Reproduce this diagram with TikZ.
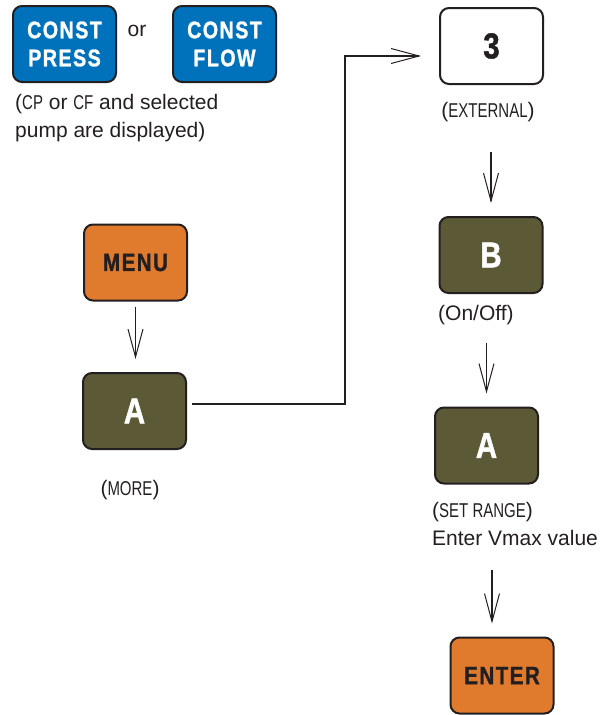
\documentclass[tikz,border=0pt]{standalone}
\usepackage{fontspec}
\setmainfont{Liberation Sans}
\newfontfamily\condfont[FakeStretch=0.75]{Liberation Sans}
\newfontfamily\keyfont[FakeStretch=0.82,LetterSpace=6,BoldFeatures={FakeBold=1.2}]{Liberation Sans}
\usetikzlibrary{positioning}
\usetikzlibrary{calc,arrows.meta}
\definecolor{keyblue}{HTML}{0072BC}
\definecolor{keyorange}{HTML}{E07B2E}
\definecolor{keyolive}{HTML}{5C5936}
\definecolor{keyline}{HTML}{231F20}
\newcommand{\capsword}[1]{{\condfont\fontsize{20}{20}\selectfont #1}}
\tikzset{
    >={Straight Barb[length=28pt,width=15pt,line width=1pt]}, % long open heads
    key/.style={draw=keyline, line width=2pt, rounded corners=9pt,
        minimum width=103pt, minimum height=76pt, inner sep=0pt, align=center},
    bluekey/.style={key, fill=keyblue, text=white,
        font=\keyfont\bfseries\fontsize{24}{28}\selectfont},
    menukey/.style={key, fill=keyorange, text=keyline,
        font=\keyfont\bfseries\fontsize{25}{28}\selectfont},
    softkey/.style={key, fill=keyolive, text=white,
        font=\keyfont\bfseries\fontsize{36}{36}\selectfont},
    numkey/.style={key, fill=white, text=keyline,
        font=\keyfont\bfseries\fontsize{36}{36}\selectfont},
    note/.style={inner sep=0pt, text=keyline, align=left,
        font=\fontsize{21}{28}\selectfont},
    flow/.style={->, line width=1.5pt, keyline},
}
\begin{document}
\begin{tikzpicture}[x=1pt,y=-1pt]
    \useasboundingbox (0,0) rectangle (607,715);
    % left column
    \node[bluekey] (keyPress) at (64.5,44) {CONST\\PRESS};
    \node[note] (or) at (137,31) {or};
    \node[bluekey] (keyFlow) at (224.5,44) {CONST\\FLOW};
    \node[note, anchor=west] (pumpnote) at (15,118)
        {(\capsword{CP} or \capsword{CF} and selected\\pump are displayed)};
    \node[menukey] (keyMenu) at (135.5,262.5) {MENU};
    \node[softkey] (keyMore) at (134.5,411) {A};
    \node[note] (more) at (130,490) {(\capsword{MORE})};
    % right column
    \node[numkey] (keyThree) at (491.5,46) {3};
    \node[note] (ext) at (488,112) {(\capsword{EXTERNAL})};
    \node[softkey] (keyB) at (491,255) {B};
    \node[note, anchor=west] (onoff) at (438,315) {(On/Off)};
    \node[softkey] (keyA) at (486.5,445.5) {A};
    \node[note, anchor=west] (range) at (432,523.5)
        {(\capsword{SET RANGE})\\Enter Vmax value};
    \node[menukey] (keyEnter) at (502,675.5) {ENTER};
    % connectors
    \coordinate (bend) at (345,56);
    \path ([xshift=-10pt]keyEnter.north) coordinate (enterin);
    \draw[flow, shorten <=5pt, shorten >=13pt]
        (keyMenu.south) -- (keyMenu.south |- keyMore.north);
    \draw[flow, shorten <=5pt, shorten >=18pt]
        ([yshift=7pt]keyMore.east) -| (bend) -- (bend -| keyThree.west);
    \draw[flow, shorten <=40pt, shorten >=13pt] (ext.center -| keyB.north) -- (keyB.north);
    \draw[flow, shorten <=28pt, shorten >=13pt] (onoff.center -| keyA.north) -- (keyA.north);
    \draw[flow, shorten <=46pt, shorten >=13pt] (range.center -| enterin) -- (enterin);
\end{tikzpicture}
\end{document}
